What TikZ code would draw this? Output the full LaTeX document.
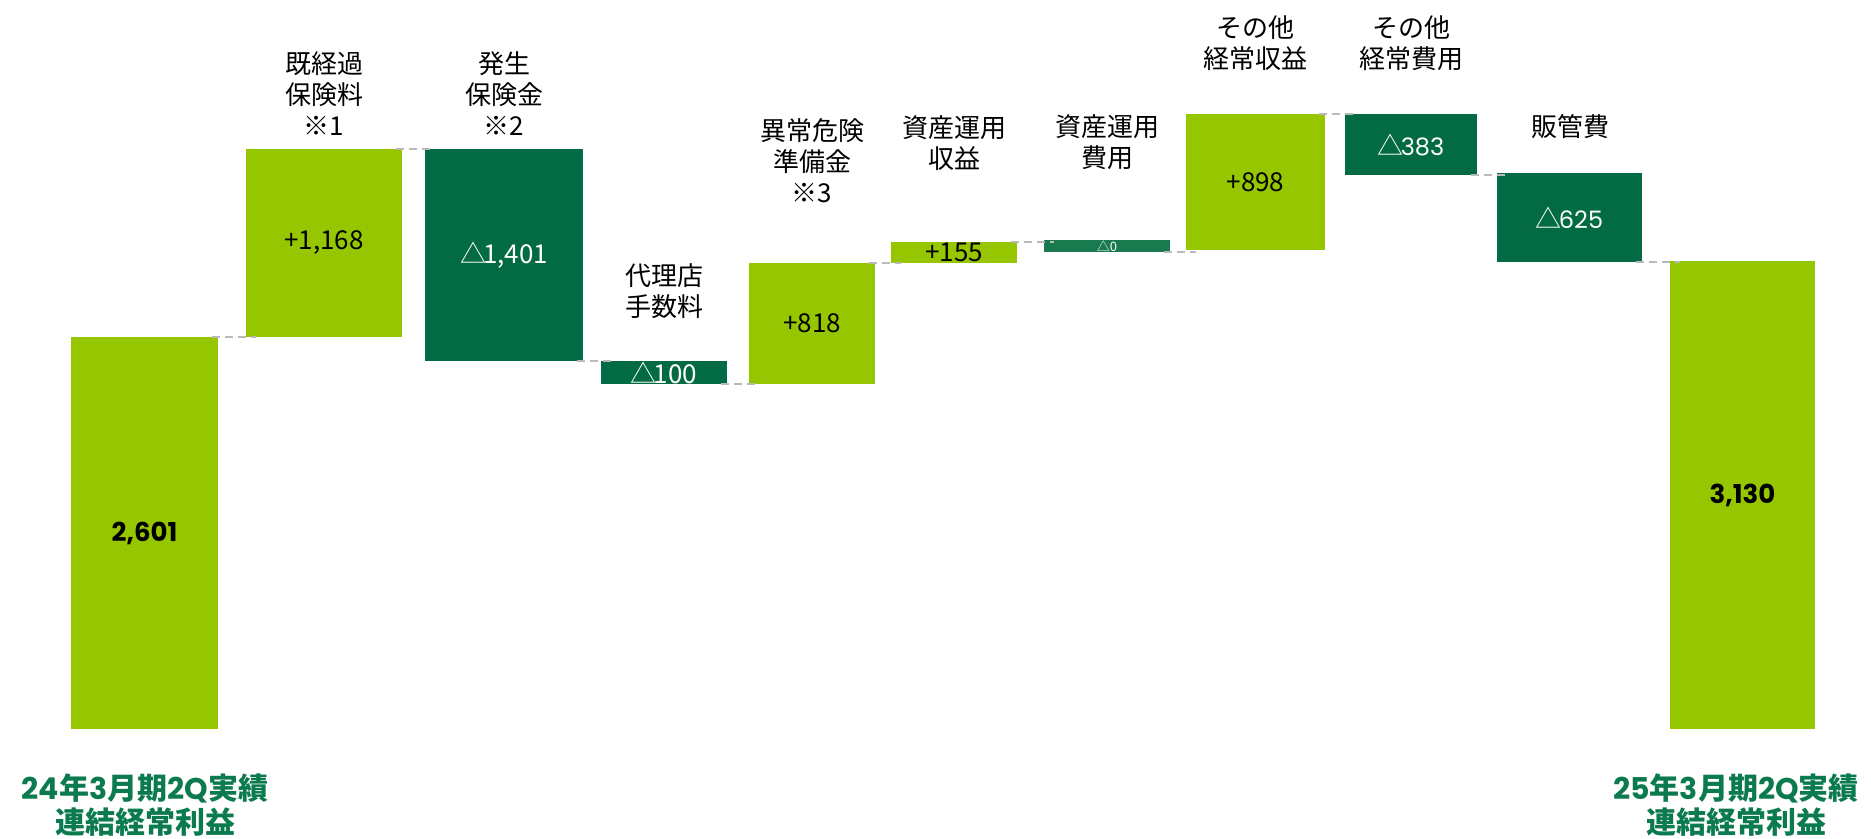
\documentclass[tikz,border=0pt]{standalone}
\usepackage{fontspec}
\setmainfont{Noto Sans CJK JP}
\newfontfamily\numfont{Poppins}
\newcommand\dlt{△\kern-3pt}
\definecolor{lgreen}{HTML}{95C600}
\definecolor{dgreen}{HTML}{036B43}
\definecolor{mgreen}{HTML}{1A7A4F}
\definecolor{tgreen}{HTML}{0B7A4E}
\begin{document}
\begin{tikzpicture}[x=1pt, y=-1pt,
    bar/.style={anchor=north west, inner sep=0pt, outer sep=0pt},
    up/.style={bar, fill=lgreen, text=black, font=\fontsize{26}{30}\selectfont},
    down/.style={bar, fill=dgreen, text=white, font=\fontsize{26}{30}\selectfont},
    total/.style={bar, fill=lgreen, text=black, font=\fontsize{26}{30}\selectfont\numfont\bfseries},
    cat/.style={align=center, font=\fontsize{26}{31}\selectfont},
    period/.style={align=center, text=tgreen, font=\fontsize{30}{34}\selectfont\bfseries},
    link/.style={draw=gray!55, line width=1.6pt, dash pattern=on 8pt off 5pt, shorten <=-6pt, shorten >=-10pt}]
    \useasboundingbox (0,0) rectangle (1871,838);
    \node[total, minimum width=147pt, minimum height=392pt] (b1) at (71,337) {2,601};
    \node[up, minimum width=156pt, minimum height=188pt] (b2) at (246,149) {+1,168};
    \node[down, minimum width=158pt, minimum height=212pt] (b3) at (425,149) {\dlt 1,401};
    \node[down, minimum width=126pt, minimum height=23pt] (b4) at (601,361) {\dlt 100};
    \node[up, minimum width=126pt, minimum height=121pt] (b5) at (749,263) {+818};
    \node[up, minimum width=126pt, minimum height=21pt] (b6) at (891,242) {+155};
    \node[down, fill=mgreen, font=\fontsize{13}{15}\selectfont, minimum width=126pt, minimum height=12pt] (b7) at (1044,240) {△0};
    \node[up, minimum width=139pt, minimum height=136pt] (b8) at (1186,114) {+898};
    \node[down, minimum width=132pt, minimum height=61pt] (b9) at (1345,114) {\dlt{\numfont\fontsize{24}{28}\selectfont 383}};
    \node[down, minimum width=145pt, minimum height=89pt] (b10) at (1497,173) {\dlt{\numfont\fontsize{24}{28}\selectfont 625}};
    \node[total, minimum width=145pt, minimum height=468pt] (b11) at (1670,261) {3,130};
    \draw[link] (b1.north east) -- (b1.north east -| b2.west);
    \draw[link] (b2.north east) -- (b2.north east -| b3.west);
    \draw[link] (b3.south east) -- (b3.south east -| b4.west);
    \draw[link] (b4.south east) -- (b4.south east -| b5.west);
    \draw[link] (b5.north east) -- (b5.north east -| b6.west);
    \draw[link] (b6.north east) -- (b6.north east -| b7.west);
    \draw[link] (b7.south east) -- (b7.south east -| b8.west);
    \draw[link] (b8.north east) -- (b8.north east -| b9.west);
    \draw[link] (b9.south east) -- (b9.south east -| b10.west);
    \draw[link] (b10.south east) -- (b10.south east -| b11.west);
    \node[cat] (l2) at (324,94) {既経過\\保険料\\※1};
    \node[cat] (l3) at (504,94) {発生\\保険金\\※2};
    \node[cat] (l4) at (664,291) {代理店\\手数料};
    \node[cat] (l5) at (812,161) {異常危険\\準備金\\※3};
    \node[cat] (l6) at (954,143) {資産運用\\収益};
    \node[cat] (l7) at (1107,142) {資産運用\\費用};
    \node[cat] (l8) at (1255,43) {その他\\経常収益};
    \node[cat] (l9) at (1411,43) {その他\\経常費用};
    \node[cat] (l10) at (1570,127) {販管費};
    \node[period] (p1) at (145,805) {{\numfont 24}年{\numfont 3}月期{\numfont 2Q}実績\\連結経常利益};
    \node[period] (p11) at (1736,805) {{\numfont 25}年{\numfont 3}月期{\numfont 2Q}実績\\連結経常利益};
\end{tikzpicture}
\end{document}
